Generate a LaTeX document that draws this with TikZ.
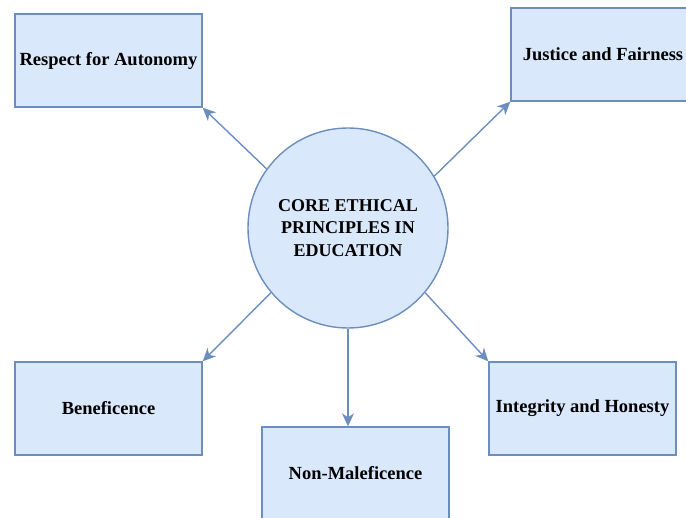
\documentclass[tikz,border=0pt]{standalone}
\usepackage{fontspec}
\setmainfont{Liberation Serif}
\usetikzlibrary{arrows.meta}
\definecolor{boxfill}{HTML}{DAE8FC}
\definecolor{boxline}{HTML}{6C8EBF}
\begin{document}
\begin{tikzpicture}[x=1pt,y=-1pt,
  pbox/.style={draw=boxline,fill=boxfill,line width=1.4pt,minimum width=187pt,minimum height=93pt,inner sep=0pt,
    font=\fontsize{18.5}{22}\selectfont\bfseries,text=black},
  core/.style={circle,draw=boxline,fill=boxfill,line width=1.4pt,minimum size=200pt,inner sep=0pt,
    font=\fontsize{18}{22.5}\selectfont\bfseries,align=center,text=black},
  conn/.style={draw=boxline,line width=1.4pt,-{Stealth[length=13pt,width=12pt,inset=4pt]}}]
\useasboundingbox (0,0) rectangle (686,518);
\begin{scope}
\clip (0,0) rectangle (686,518);
\node[core] (c) at (348,228) {CORE ETHICAL\\PRINCIPLES IN\\EDUCATION};
\node[pbox] (resp) at (108.5,60.5) {Respect for Autonomy};
\node[pbox,minimum width=184pt] (just) at (603,54.5) {Justice and Fairness};
\node[pbox] (ben) at (108.5,408.5) {Beneficence};
\node[pbox] (integ) at (582.5,408.5) {Integrity and Honesty};
\node[pbox] (nonm) at (355.5,473.5) {Non-Maleficence};
\draw[conn] (c.144) -- (resp.south east);
\draw[conn] (c.31) -- (just.south west);
\draw[conn] (c.-140) -- (ben.north east);
\draw[conn] (c.-40) -- (integ.north west);
\draw[conn] (c.south) -- (c.south |- nonm.north);
\end{scope}
\end{tikzpicture}
\end{document}
